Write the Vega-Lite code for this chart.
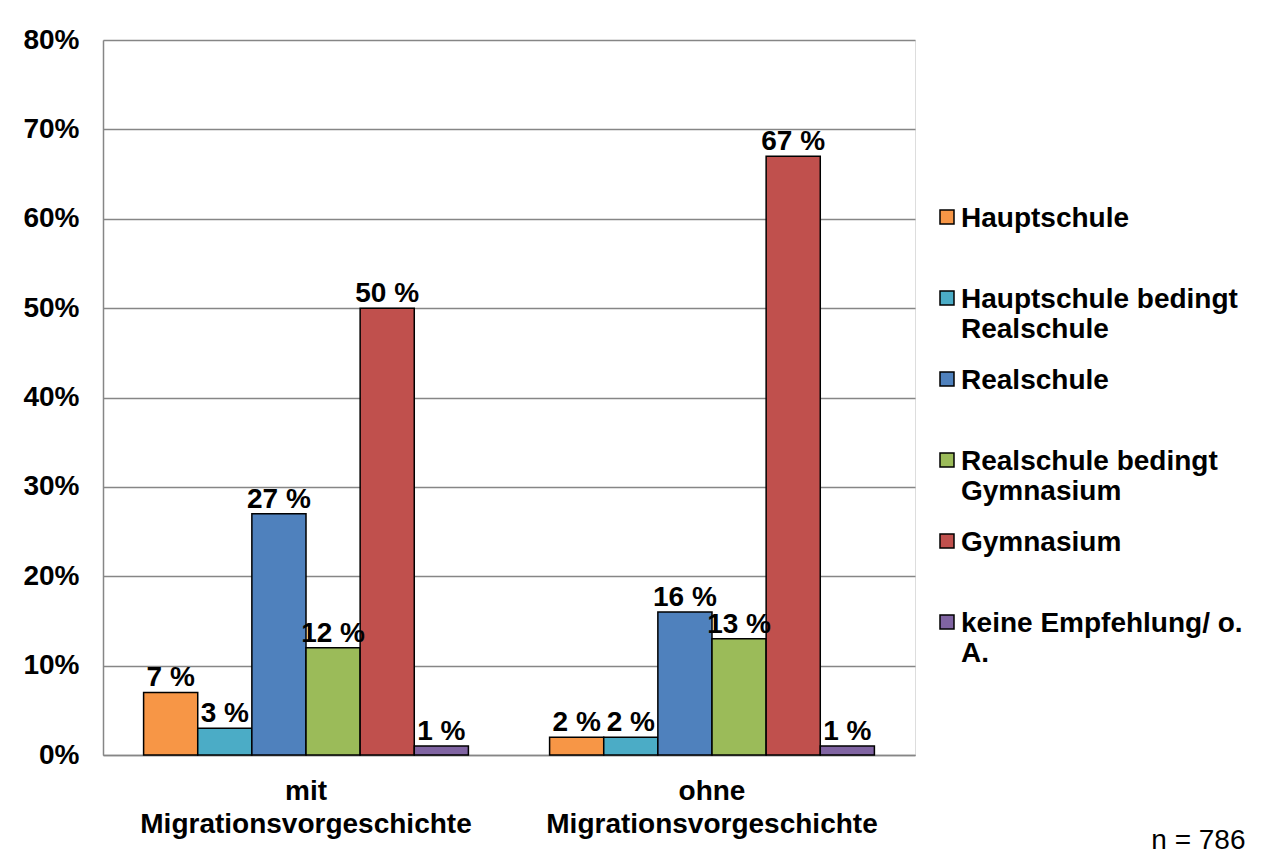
{
  "$schema": "https://vega.github.io/schema/vega-lite/v6.json",
  "width": 812,
  "height": 715,
  "autosize": {"type": "none"},
  "padding": {"left": 103, "top": 40, "right": 373, "bottom": 106},
  "background": "white",
  "data": {
    "values": [
      {"group": "mit Migrationsvorgeschichte", "category": "Hauptschule", "value": 7, "label": "7 %"},
      {"group": "mit Migrationsvorgeschichte", "category": "Hauptschule bedingt Realschule", "value": 3, "label": "3 %"},
      {"group": "mit Migrationsvorgeschichte", "category": "Realschule", "value": 27, "label": "27 %"},
      {"group": "mit Migrationsvorgeschichte", "category": "Realschule bedingt Gymnasium", "value": 12, "label": "12 %"},
      {"group": "mit Migrationsvorgeschichte", "category": "Gymnasium", "value": 50, "label": "50 %"},
      {"group": "mit Migrationsvorgeschichte", "category": "keine Empfehlung/ o. A.", "value": 1, "label": "1 %"},
      {"group": "ohne Migrationsvorgeschichte", "category": "Hauptschule", "value": 2, "label": "2 %"},
      {"group": "ohne Migrationsvorgeschichte", "category": "Hauptschule bedingt Realschule", "value": 2, "label": "2 %"},
      {"group": "ohne Migrationsvorgeschichte", "category": "Realschule", "value": 16, "label": "16 %"},
      {"group": "ohne Migrationsvorgeschichte", "category": "Realschule bedingt Gymnasium", "value": 13, "label": "13 %"},
      {"group": "ohne Migrationsvorgeschichte", "category": "Gymnasium", "value": 67, "label": "67 %"},
      {"group": "ohne Migrationsvorgeschichte", "category": "keine Empfehlung/ o. A.", "value": 1, "label": "1 %"}
    ]
  },
  "encoding": {
    "x": {
      "field": "group",
      "type": "nominal",
      "sort": ["mit Migrationsvorgeschichte", "ohne Migrationsvorgeschichte"],
      "scale": {"paddingInner": 0.2, "paddingOuter": 0.1},
      "axis": {
        "title": "n = 786",
        "titleFont": "Liberation Sans",
        "titleFontSize": 28,
        "titleFontWeight": "normal",
        "titleColor": "black",
        "titleAnchor": "end",
        "titleAlign": "right",
        "titleBaseline": "alphabetic",
        "titleX": 1142,
        "titleY": 93,
        "labelAngle": 0,
        "labelExpr": "split(datum.label, ' ')",
        "labelFont": "Liberation Sans",
        "labelFontWeight": "bold",
        "labelFontSize": 28,
        "labelColor": "black",
        "labelBaseline": "alphabetic",
        "labelLineHeight": 33,
        "labelPadding": 44,
        "labelLimit": 600,
        "ticks": false,
        "tickSize": 0,
        "domainColor": "#868686",
        "domainWidth": 1.5,
        "grid": false
      }
    },
    "xOffset": {
      "field": "category",
      "type": "nominal",
      "sort": ["Hauptschule", "Hauptschule bedingt Realschule", "Realschule", "Realschule bedingt Gymnasium", "Gymnasium", "keine Empfehlung/ o. A."]
    },
    "y": {
      "field": "value",
      "type": "quantitative",
      "scale": {"domain": [0, 80]},
      "axis": {
        "title": null,
        "values": [0, 10, 20, 30, 40, 50, 60, 70, 80],
        "labelExpr": "datum.value + '%'",
        "labelFont": "Liberation Sans",
        "labelFontWeight": "bold",
        "labelFontSize": 28,
        "labelColor": "black",
        "labelPadding": 24,
        "ticks": false,
        "tickSize": 0,
        "domainColor": "#868686",
        "domainWidth": 1.5,
        "grid": true,
        "gridColor": "#868686",
        "gridWidth": 1.5
      }
    }
  },
  "layer": [
    {
      "mark": {"type": "bar", "stroke": "black", "strokeWidth": 1.5},
      "encoding": {
        "color": {
          "field": "category",
          "type": "nominal",
          "scale": {
            "domain": ["Hauptschule", "Hauptschule bedingt Realschule", "Realschule", "Realschule bedingt Gymnasium", "Gymnasium", "keine Empfehlung/ o. A."],
            "range": ["#F79646", "#4BACC6", "#4F81BD", "#9BBB59", "#C0504D", "#8064A2"]
          },
          "legend": {
            "orient": "none",
            "legendX": 830,
            "legendY": 173,
            "title": null,
            "padding": 0,
            "gridAlign": "all",
            "rowPadding": 23,
            "labelFont": "Liberation Sans",
            "labelFontWeight": "bold",
            "labelFontSize": 28,
            "labelColor": "black",
            "labelLimit": 400,
            "labelOffset": 0,
            "labelBaseline": "alphabetic",
            "labelLineHeight": 33,
            "labelExpr": "datum.label == 'Hauptschule bedingt Realschule' ? ['Hauptschule bedingt', 'Realschule'] : datum.label == 'Realschule bedingt Gymnasium' ? ['Realschule bedingt', 'Gymnasium'] : datum.label == 'keine Empfehlung/ o. A.' ? ['keine Empfehlung/ o.', 'A.'] : datum.label",
            "symbolType": "M-1,-2.43H1V-0.43H-1Z",
            "symbolSize": 196,
            "symbolStrokeColor": "black",
            "symbolStrokeWidth": 1.5,
            "symbolOpacity": 1
          }
        }
      }
    },
    {
      "mark": {"type": "text", "baseline": "alphabetic", "dy": -6, "font": "Liberation Sans", "fontWeight": "bold", "fontSize": 28, "color": "black"},
      "encoding": {"text": {"field": "label"}}
    }
  ]
}
